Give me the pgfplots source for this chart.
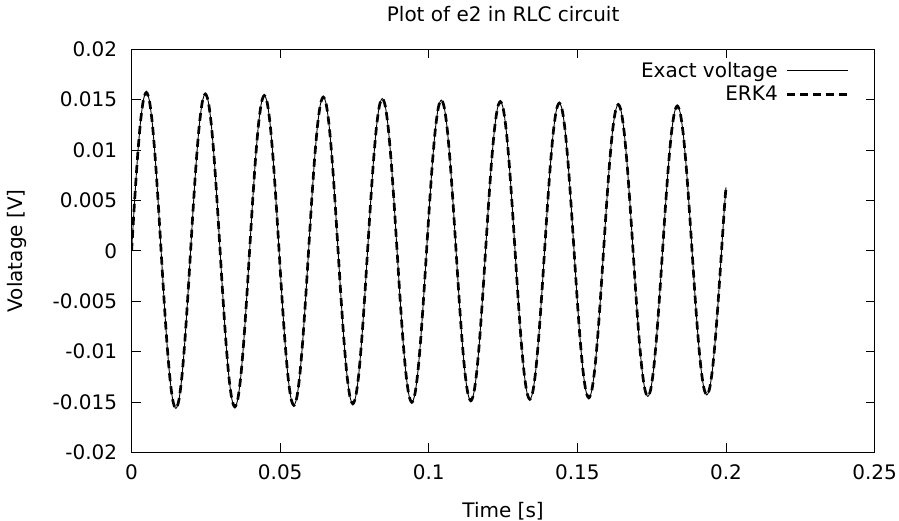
\documentclass[border=0pt]{standalone}
\usepackage{fontspec}
\setmainfont{DejaVu Sans}
\usepackage{pgfplots}
\pgfplotsset{compat=1.18}
\usepackage{pgfplotstable}

\pgfplotstableread{
t v
0 0
0.0009925 0.004868
0.001985 0.009254
0.0029775 0.012732
0.00397 0.014959
0.0049625 0.015721
0.005955 0.014944
0.0069475 0.012706
0.00794 0.009227
0.0089325 0.004848
0.009925 0
0.0109175 -0.004844
0.01191 -0.009208
0.0129025 -0.012668
0.013895 -0.014885
0.0148875 -0.015643
0.01588 -0.014870
0.0168725 -0.012643
0.017865 -0.009181
0.0188575 -0.004824
0.01985 0
0.0208425 0.004819
0.021835 0.009163
0.0228275 0.012605
0.02382 0.014811
0.0248125 0.015566
0.025805 0.014797
0.0267975 0.012580
0.02779 0.009135
0.0287825 0.004801
0.029775 0
0.0307675 -0.004796
0.03176 -0.009118
0.0327525 -0.012543
0.033745 -0.014738
0.0347375 -0.015489
0.03573 -0.014723
0.0367225 -0.012518
0.037715 -0.009091
0.0387075 -0.004777
0.0397 0
0.0406925 0.004772
0.041685 0.009072
0.0426775 0.012481
0.04367 0.014665
0.0446625 0.015412
0.045655 0.014650
0.0466475 0.012456
0.04764 0.009045
0.0486325 0.004753
0.049625 0
0.0506175 -0.004748
0.05161 -0.009028
0.0526025 -0.012419
0.053595 -0.014593
0.0545875 -0.015336
0.05558 -0.014578
0.0565725 -0.012395
0.057565 -0.009001
0.0585575 -0.004730
0.05955 0
0.0605425 0.004725
0.061535 0.008983
0.0625275 0.012358
0.06352 0.014521
0.0645125 0.015260
0.065505 0.014506
0.0664975 0.012333
0.06749 0.008956
0.0684825 0.004706
0.069475 0
0.0704675 -0.004702
0.07146 -0.008938
0.0724525 -0.012297
0.073445 -0.014448
0.0744375 -0.015185
0.07543 -0.014434
0.0764225 -0.012273
0.077415 -0.008912
0.0784075 -0.004683
0.0794 0
0.0803925 0.004679
0.081385 0.008894
0.0823775 0.012236
0.08337 0.014377
0.0843625 0.015110
0.085355 0.014363
0.0863475 0.012212
0.08734 0.008868
0.0883325 0.004660
0.089325 0
0.0903175 -0.004655
0.09131 -0.008850
0.0923025 -0.012176
0.093295 -0.014306
0.0942875 -0.015035
0.09528 -0.014291
0.0962725 -0.012151
0.097265 -0.008824
0.0982575 -0.004637
0.09925 0
0.1002425 0.004632
0.101235 0.008806
0.1022275 0.012115
0.10322 0.014235
0.1042125 0.014960
0.105205 0.014221
0.1061975 0.012091
0.10719 0.008780
0.1081825 0.004614
0.109175 0
0.1101675 -0.004609
0.11116 -0.008763
0.1121525 -0.012055
0.113145 -0.014164
0.1141375 -0.014886
0.11513 -0.014151
0.1161225 -0.012031
0.117115 -0.008737
0.1181075 -0.004591
0.1191 0
0.1200925 0.004586
0.121085 0.008719
0.1220775 0.011995
0.12307 0.014094
0.1240625 0.014812
0.125055 0.014080
0.1260475 0.011971
0.12704 0.008693
0.1280325 0.004568
0.129025 0
0.1300175 -0.004564
0.13101 -0.008676
0.1320025 -0.011935
0.132995 -0.014024
0.1339875 -0.014738
0.13498 -0.014010
0.1359725 -0.011912
0.136965 -0.008650
0.1379575 -0.004545
0.13895 0
0.1399425 0.004541
0.140935 0.008633
0.1419275 0.011876
0.14292 0.013955
0.1439125 0.014666
0.144905 0.013940
0.1458975 0.011853
0.14689 0.008607
0.1478825 0.004523
0.148875 0
0.1498675 -0.004518
0.15086 -0.008590
0.1518525 -0.011817
0.152845 -0.013885
0.1538375 -0.014593
0.15483 -0.013872
0.1558225 -0.011794
0.156815 -0.008565
0.1578075 -0.004501
0.1588 0
0.1597925 0.004496
0.160785 0.008548
0.1617775 0.011759
0.16277 0.013817
0.1637625 0.014521
0.164755 0.013804
0.1657475 0.011736
0.16674 0.008522
0.1677325 0.004478
0.168725 0
0.1697175 -0.004474
0.17071 -0.008505
0.1717025 -0.011701
0.172695 -0.013749
0.1736875 -0.014449
0.17468 -0.013735
0.1756725 -0.011677
0.176665 -0.008480
0.1776575 -0.004456
0.17865 0
0.1796425 0.004452
0.180635 0.008464
0.1816275 0.011643
0.18262 0.013681
0.1836125 0.014377
0.184605 0.013667
0.1855975 0.011620
0.18659 0.008438
0.1875825 0.004434
0.188575 0
0.1895675 -0.004430
0.19056 -0.008422
0.1915525 -0.011586
0.192545 -0.013613
0.1935375 -0.014306
0.19453 -0.013599
0.1955225 -0.011563
0.196515 -0.008397
0.1975075 -0.004412
0.1985 0
0.1994925 0.004408
0.2 0.0063
}\rlcdata

\begin{document}
\begin{tikzpicture}
  \begin{axis}[
    at={(131.6bp,68.7bp)}, anchor=south west,
    scale only axis, width=743bp, height=403bp,
    xmin=0, xmax=0.25, ymin=-0.02, ymax=0.02,
    scaled x ticks=false, scaled y ticks=false,
    xtick={0,0.05,0.1,0.15,0.2,0.25},
    xticklabels={0,0.05,0.1,0.15,0.2,0.25},
    ytick={-0.02,-0.015,-0.01,-0.005,0,0.005,0.01,0.015,0.02},
    yticklabels={-0.02,-0.015,-0.01,-0.005,0,0.005,0.01,0.015,0.02},
    tick align=inside, major tick length=9bp,
    tick style={black, line width=0.8bp},
    axis line style={black, line width=0.9bp},
    minor tick num=0,
    tick label style={font=\fontsize{20bp}{24bp}\selectfont, inner sep=0pt},
    xticklabel style={anchor=north, yshift=-12bp},
    yticklabel style={anchor=east, xshift=-14.3bp},
    title={Plot of e2 in RLC circuit},
    title style={at={(axis description cs:0.5,1)}, anchor=base, yshift=22bp,
      inner sep=0pt, font=\fontsize{20bp}{24bp}\selectfont},
    xlabel={Time [s]},
    xlabel style={at={(axis description cs:0.5,0)}, anchor=base, yshift=-64.7bp,
      inner sep=0pt, font=\fontsize{20bp}{24bp}\selectfont},
    ylabel={Volatage [V]},
    ylabel style={at={(axis description cs:-0.1467,0.5)}, anchor=base,
      inner sep=0pt, font=\fontsize{20bp}{24bp}\selectfont},
    legend plot pos=right,
    legend cell align=right,
    legend style={draw=none, fill=none, at={(axis description cs:1,1)},
      anchor=north east, xshift=-22bp, yshift=-9bp,
      font=\fontsize{20bp}{24bp}\selectfont, row sep=3bp, column sep=6bp},
    legend image code/.code={\draw[#1] (0bp,0bp) -- (61bp,0bp);},
  ]
    \addplot[black, line width=0.9bp, smooth, tension=0.5] table[x=t, y=v] {\rlcdata};
    \addlegendentry{Exact voltage}
    \addplot[black, line width=2.7bp, dash pattern=on 8bp off 5bp, smooth, tension=0.5] table[x=t, y=v] {\rlcdata};
    \addlegendentry{ERK4}
  \end{axis}
  \pgfresetboundingbox
  \path (0,0) rectangle (899bp,521bp);
\end{tikzpicture}
\end{document}
